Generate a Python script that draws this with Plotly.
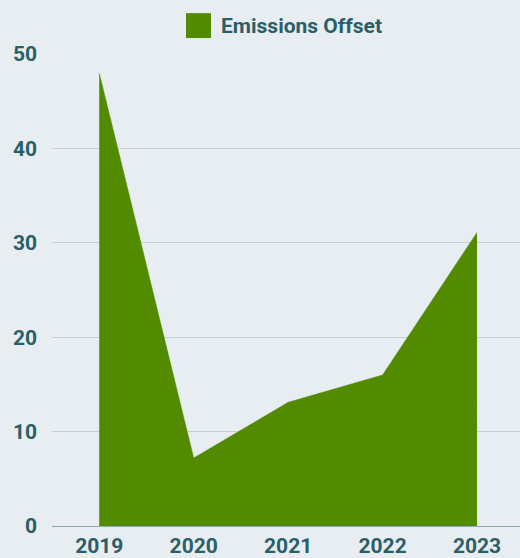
import plotly.graph_objects as go

years = ["2019", "2020", "2021", "2022", "2023"]
emissions_offset = [48.0, 7.2, 13.1, 16.0, 31.1]
y_ticks = [0, 10, 20, 30, 40, 50]
series_name = "Emissions Offset"

green = "#528a00"
text_color = "#2a5f68"
bg = "#e8edf2"

fig = go.Figure()
fig.add_trace(go.Scatter(
    x=years, y=emissions_offset, mode="lines", fill="tozeroy", name=series_name,
    fillcolor=green, line=dict(color=green, width=0.5),
    showlegend=False, hoverinfo="x+y",
))

# legend drawn as a large square swatch plus label
fig.add_shape(type="rect", xref="paper", yref="paper",
              x0=0.2863, x1=0.3397, y0=1.0338, y1=1.0865,
              fillcolor=green, line=dict(width=0))
fig.add_annotation(text=series_name, xref="paper", yref="paper",
                   x=0.357, y=1.059, xanchor="left", yanchor="middle",
                   showarrow=False,
                   font=dict(size=21, color=text_color, weight="bold", family="Roboto"))

fig.update_layout(
    width=520, height=558,
    paper_bgcolor=bg, plot_bgcolor=bg,
    margin=dict(l=52, r=0, t=54, b=30),
    font=dict(family="Roboto", size=21, color=text_color, weight="bold"),
    showlegend=False,
    xaxis=dict(type="category", range=[-0.5, 4.455], showgrid=False,
               showline=False, zeroline=False, ticks="", ticklabelstandoff=5,
               tickfont=dict(size=21, color=text_color, weight="bold")),
    yaxis=dict(range=[0, 50], tickvals=y_ticks, showgrid=True, gridcolor="#c3d2d7",
               gridwidth=1, zeroline=True, zerolinecolor="#8aa9b1", zerolinewidth=1,
               showline=False, ticks="", ticklabelstandoff=14,
               tickfont=dict(size=21, color=text_color, weight="bold")),
)

fig.write_html("out.html", config={"displayModeBar": False},
               post_script="document.body.style.margin='0';")
